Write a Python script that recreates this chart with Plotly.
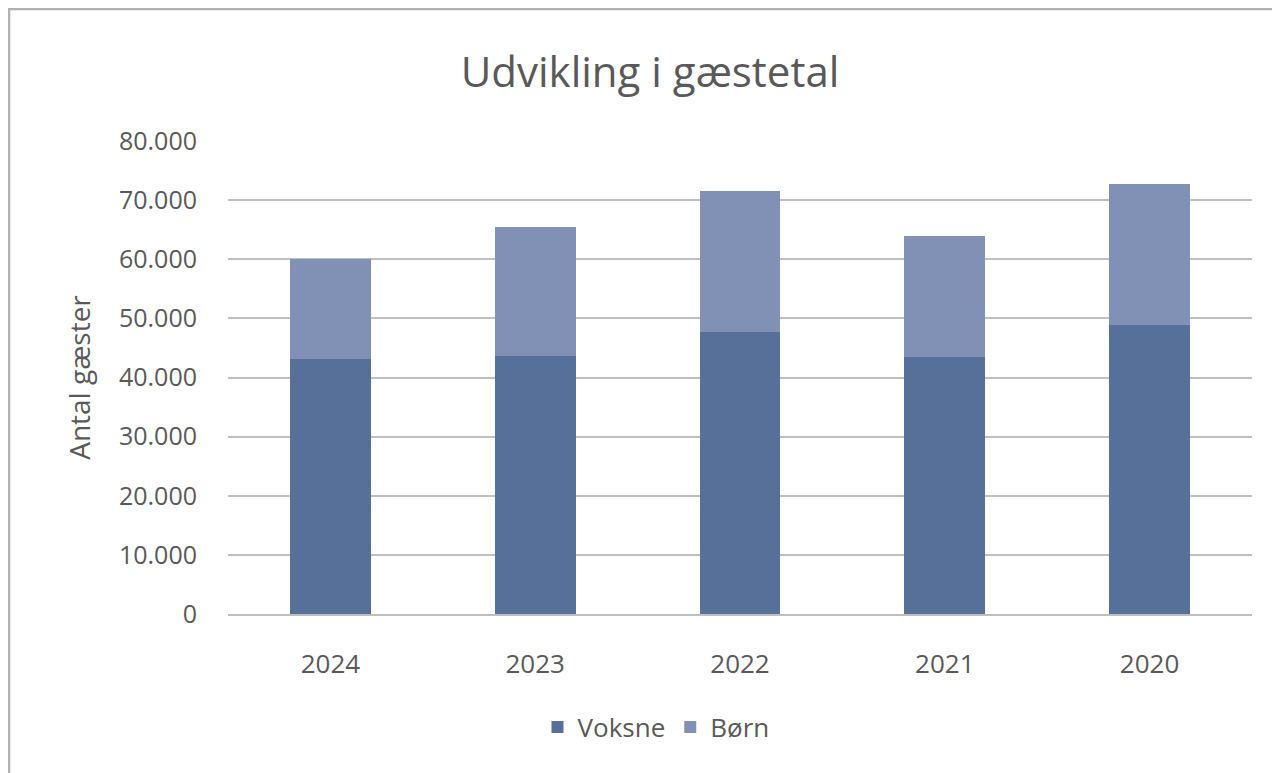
import plotly.graph_objects as go

years = ["2024", "2023", "2022", "2021", "2020"]
voksne = [43100, 43700, 47700, 43500, 48900]
boern = [17000, 21800, 23900, 20500, 23900]
tick_vals = [0, 10000, 20000, 30000, 40000, 50000, 60000, 70000, 80000]
tick_text = ["0", "10.000", "20.000", "30.000", "40.000", "50.000", "60.000", "70.000", "80.000"]

W, H = 1280, 773
OFF = 8  # page offset of the figure in the browser
# target page coordinates of the plot area
PL, PR, PT, PB = 228, 1252, 141, 614
L = PL - OFF
T = PT - OFF
R = W - (PR - OFF)
B = H - (PB - OFF)
pw, ph = W - L - R, H - T - B

def px(x):
    return (x - OFF - L) / pw

def py(y):
    return (H - B - (y - OFF)) / ph

font = "Open Sans, Lato, sans-serif"
grey = "#595959"

fig = go.Figure()
fig.add_trace(go.Bar(name="Voksne", x=years, y=voksne, marker=dict(color="#56709a", line=dict(width=0))))
fig.add_trace(go.Bar(name="Børn", x=years, y=boern, marker=dict(color="#8190b5", line=dict(width=0))))

fig.update_layout(
    barmode="stack",
    bargap=0.605,
    width=W, height=H,
    margin=dict(l=L, r=R, t=T, b=B, autoexpand=False),
    paper_bgcolor="white",
    plot_bgcolor="white",
    font=dict(family=font, color=grey),
    title=dict(text="Udvikling i gæstetal", xref="container", x=(650 - OFF) / W, xanchor="center",
               yref="container", y=1 - (72 - OFF) / H, yanchor="middle",
               font=dict(size=42, color=grey, family=font)),
    showlegend=True,
    legend=dict(orientation="h", x=px(656), xanchor="center", y=py(727), yanchor="middle",
                font=dict(size=26, color=grey), traceorder="normal",
                itemwidth=30, itemsizing="constant"),
    xaxis=dict(showgrid=False, showline=True, linecolor="#bfbfbf", linewidth=1.5,
               tickfont=dict(size=26, color=grey), ticks="", ticklabelstandoff=26,
               range=[-0.5, 4.5]),
    yaxis=dict(range=[0, 80000], tickvals=tick_vals, ticktext=tick_text,
               showgrid=True, gridcolor="#bfbfbf", gridwidth=2, zeroline=False,
               showline=False, tickfont=dict(size=25, color=grey), ticks="",
               ticklabelstandoff=30,
               title=dict(text="Antal gæster", font=dict(size=28, color=grey), standoff=20)),
    shapes=[
        dict(type="line", xref="paper", yref="paper", x0=px(8), x1=px(1290), y0=py(9), y1=py(9),
             line=dict(color="#b0b0b0", width=2.5)),
        dict(type="line", xref="paper", yref="paper", x0=px(9), x1=px(9), y0=py(9), y1=py(790),
             line=dict(color="#b0b0b0", width=2.5)),
    ],
)

fig.write_html("out.html")
